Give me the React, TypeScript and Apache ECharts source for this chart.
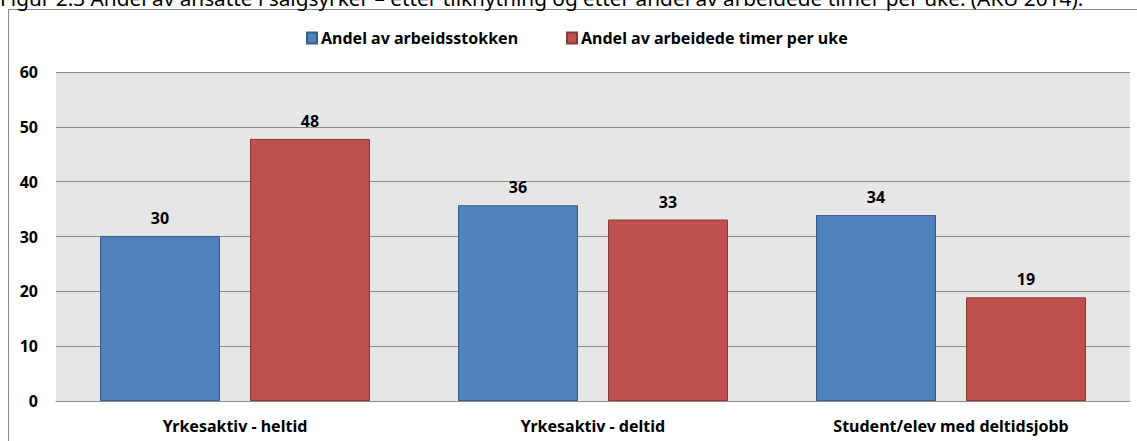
import React, { useEffect, useRef } from "react";
import * as echarts from "echarts";

const categories = ["Yrkesaktiv - heltid", "Yrkesaktiv - deltid", "Student/elev med deltidsjobb"];
const seriesNames = ["Andel av arbeidsstokken", "Andel av arbeidede timer per uke"];
const workforceShare = [30.1, 35.7, 33.9];
const hoursShare = [47.8, 33.1, 18.9];
const yTicks = [0, 10, 20, 30, 40, 50, 60];
const titleText = "Figur 2.3 Andel av ansatte i salgsyrker – etter tilknytning og etter andel av arbeidede timer per uke. (AKU 2014).";

const FONT = "'Noto Sans', 'Open Sans', sans-serif";

export default function App() {
  const ref = useRef<HTMLDivElement>(null);
  useEffect(() => {
    if (!ref.current) return;
    const chart = echarts.init(ref.current, null, { renderer: "svg" });
    const label = {
      show: true,
      position: "top",
      distance: 10,
      fontFamily: FONT,
      fontWeight: "bold",
      fontSize: 16,
      color: "#000",
      formatter: (p: any) => Math.round(p.value).toString(),
    };
    chart.setOption({
      animation: false,
      textStyle: { fontFamily: FONT },
      graphic: [
        {
          type: "text",
          left: 0,
          top: -13,
          silent: true,
          style: { text: titleText, fontFamily: FONT, fontSize: 20.8, fill: "#000" },
        },
        {
          type: "rect",
          shape: { x: 8.5, y: 9.5, width: 1200, height: 600 },
          style: { fill: "none", stroke: "#8a8a8a", lineWidth: 1 },
          silent: true,
          z: -1,
        },
      ],
      legend: {
        top: 25,
        left: 301,
        itemWidth: 10,
        itemHeight: 11,
        itemGap: 48,
        icon: "rect",
        textStyle: { fontFamily: FONT, fontWeight: "bold", fontSize: 16, color: "#000", padding: [0, 0, 0, -1] },
        data: seriesNames,
      },
      grid: { left: 56, right: 7, top: 72, bottom: 40, show: true, backgroundColor: "#e6e6e6", borderWidth: 0 },
      xAxis: {
        type: "category",
        data: categories,
        axisTick: { show: false },
        axisLine: { show: true, lineStyle: { color: "#8c8c8c", width: 1 } },
        axisLabel: { fontFamily: FONT, fontWeight: "bold", fontSize: 16, color: "#000", margin: 17 },
      },
      yAxis: {
        type: "value",
        min: yTicks[0],
        max: yTicks[yTicks.length - 1],
        interval: 10,
        axisLine: { show: false },
        axisTick: { show: false },
        splitLine: { lineStyle: { color: "#8c8c8c", width: 1 } },
        axisLabel: { fontFamily: FONT, fontWeight: "bold", fontSize: 16, color: "#000", margin: 18 },
      },
      series: [
        {
          name: seriesNames[0],
          type: "bar",
          data: workforceShare,
          barWidth: 120,
          barGap: "25%",
          itemStyle: { color: "#4f81bd", borderColor: "#385d8a", borderWidth: 1 },
          label,
        },
        {
          name: seriesNames[1],
          type: "bar",
          data: hoursShare,
          barWidth: 120,
          barGap: "25%",
          itemStyle: { color: "#c0504d", borderColor: "#8c3836", borderWidth: 1 },
          label,
        },
      ],
    });
    return () => chart.dispose();
  }, []);
  return (
    <div
      ref={ref}
      style={{ position: "fixed", left: 0, top: 0, width: 1137, height: 441, background: "#fff" }}
    />
  );
}
